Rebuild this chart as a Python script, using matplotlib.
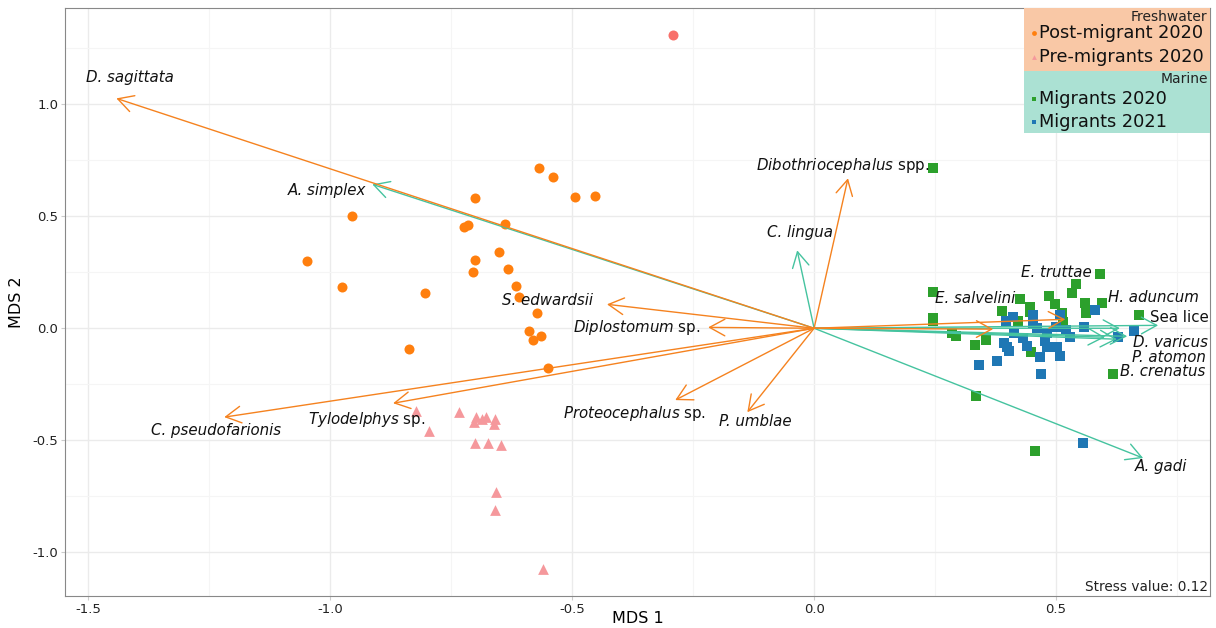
import matplotlib
matplotlib.use("Agg")
import matplotlib.pyplot as plt
from matplotlib.patches import Rectangle
from matplotlib.ticker import MultipleLocator, FormatStrFormatter

plt.rcParams['font.family'] = ['DejaVu Sans']
plt.rcParams['axes.unicode_minus'] = False

# Puntos de las muestras (MDS 1, MDS 2)
post_x = [-0.568, -0.539, -0.494, -0.452, -0.700, -0.955, -0.723, -0.715, -0.638, -1.048,
          -0.700, -0.651, -0.705, -0.632, -0.975, -0.804, -0.616, -0.610, -0.572, -0.589,
          -0.581, -0.564, -0.837, -0.550]
post_y = [0.714, 0.674, 0.585, 0.589, 0.580, 0.500, 0.451, 0.460, 0.464, 0.299,
          0.304, 0.339, 0.250, 0.263, 0.183, 0.156, 0.188, 0.138, 0.067, -0.013,
          -0.054, -0.036, -0.094, -0.179]

outlier_x = [-0.291]
outlier_y = [1.308]

pre_x = [-0.822, -0.795, -0.733, -0.698, -0.702, -0.686, -0.678, -0.659, -0.661, -0.700,
         -0.674, -0.647, -0.657, -0.659, -0.560]
pre_y = [-0.371, -0.460, -0.375, -0.397, -0.420, -0.406, -0.397, -0.406, -0.429, -0.513,
         -0.513, -0.522, -0.732, -0.813, -1.076]

mig20_x = [0.246, 0.246, 0.246, 0.285, 0.293, 0.333, 0.355, 0.388, 0.426, 0.421,
           0.446, 0.446, 0.448, 0.486, 0.498, 0.512, 0.514, 0.541, 0.533, 0.591,
           0.560, 0.562, 0.595, 0.671, 0.618, 0.335, 0.246, 0.457]
mig20_y = [0.161, 0.045, 0.031, -0.022, -0.036, -0.076, -0.054, 0.076, 0.129, 0.031,
           0.094, 0.071, -0.107, 0.143, 0.107, 0.067, 0.027, 0.196, 0.156, 0.241,
           0.112, 0.067, 0.112, 0.058, -0.205, -0.304, 0.714, -0.549]

mig21_x = [0.411, 0.397, 0.413, 0.452, 0.452, 0.461, 0.481, 0.500, 0.508, 0.521,
           0.529, 0.558, 0.581, 0.393, 0.399, 0.403, 0.432, 0.440, 0.477, 0.481,
           0.502, 0.508, 0.467, 0.378, 0.341, 0.469, 0.628, 0.661, 0.556]
mig21_y = [0.049, 0.031, -0.022, 0.058, 0.022, 0.000, -0.022, 0.004, 0.058, -0.009,
           -0.040, 0.004, 0.080, -0.067, -0.085, -0.103, -0.045, -0.080, -0.058, -0.085,
           -0.085, -0.125, -0.129, -0.147, -0.165, -0.205, -0.040, -0.013, -0.513]

# Vectores de parásitos de agua dulce
fw_names = ["D. sagittata", r"$\it{Dibothriocephalus}$ spp.", "S. edwardsii",
            r"$\it{Diplostomum}$ sp.", "C. pseudofarionis", r"$\it{Tylodelphys}$ sp.",
            r"$\it{Proteocephalus}$ sp.", "P. umblae", "E. salvelini", "E. truttae"]
fw_x = [-1.442, 0.070, -0.428, -0.219, -1.219, -0.870, -0.287, -0.138, 0.370, 0.519]
fw_y = [1.027, 0.670, 0.107, 0.004, -0.397, -0.335, -0.321, -0.375, -0.004, 0.040]
fw_lab_x = [-1.413, 0.058, -0.550, -0.366, -1.236, -0.924, -0.372, -0.122, 0.333, 0.500]
fw_lab_y = [1.121, 0.728, 0.125, 0.004, -0.455, -0.406, -0.379, -0.415, 0.134, 0.250]

# Vectores de parásitos marinos
mar_names = ["A. simplex", "C. lingua", "H. aduncum", "Sea lice", "D. varicus",
             "P. atomon", "B. crenatus", "A. gadi"]
mar_x = [-0.913, -0.035, 0.632, 0.711, 0.647, 0.626, 0.601, 0.680]
mar_y = [0.643, 0.348, 0.000, 0.013, -0.036, -0.049, -0.040, -0.580]
mar_lab_x = [-0.926, -0.029, 0.702, 0.754, 0.736, 0.733, 0.721, 0.717]
mar_lab_y = [0.616, 0.429, 0.138, 0.049, -0.063, -0.129, -0.192, -0.616]

c_orange = "#ff7f0e"
c_pink = "#f5989c"
c_green = "#2ca02c"
c_blue = "#1f77b4"
c_red = "#f8706a"
c_arrow_fw = "#f5821f"
c_arrow_mar = "#45c39f"

fig = plt.figure(figsize=(12.16, 6.28), dpi=100)
ax = fig.add_axes([0.0535, 0.051, 0.9415, 0.936])

ax.set_xlim(-1.548, 0.818)
ax.set_ylim(-1.196, 1.43)

ax.xaxis.set_major_locator(MultipleLocator(0.5))
ax.xaxis.set_minor_locator(MultipleLocator(0.25))
ax.yaxis.set_major_locator(MultipleLocator(0.5))
ax.yaxis.set_minor_locator(MultipleLocator(0.25))
ax.xaxis.set_major_formatter(FormatStrFormatter('%.1f'))
ax.yaxis.set_major_formatter(FormatStrFormatter('%.1f'))
ax.grid(True, which='major', color='#ebebeb', lw=1.0)
ax.grid(True, which='minor', color='#f5f5f5', lw=0.8)
ax.set_axisbelow(True)
ax.tick_params(which='major', length=3, pad=2, color='#cccccc', labelsize=9.5,
               labelcolor='#222222')
ax.tick_params(which='minor', length=0)
for s in ax.spines.values():
    s.set_color('#888888')
    s.set_linewidth(0.8)

ax.set_xlabel("MDS 1", fontsize=11.5, va='center')
ax.xaxis.set_label_coords(0.5, -0.038)
ax.set_ylabel("MDS 2", fontsize=11.5, labelpad=6)

# Puntos
ax.scatter(post_x, post_y, s=52, color=c_orange, marker='o', linewidths=0, zorder=2)
ax.scatter(outlier_x, outlier_y, s=52, color=c_red, marker='o', linewidths=0, zorder=2)
ax.scatter(pre_x, pre_y, s=60, color=c_pink, marker='^', linewidths=0, zorder=2)
ax.scatter(mig20_x, mig20_y, s=45, color=c_green, marker='s', linewidths=0, zorder=2)
ax.scatter(mig21_x, mig21_y, s=45, color=c_blue, marker='s', linewidths=0, zorder=2)

# Flechas
estilo = '->,head_length=0.55,head_width=0.3'
for x, y in zip(mar_x, mar_y):
    ax.annotate("", xy=(x, y), xytext=(0, 0),
                arrowprops=dict(arrowstyle=estilo, color=c_arrow_mar, lw=1.0,
                                shrinkA=0, shrinkB=0, mutation_scale=20), zorder=3)
for x, y in zip(fw_x, fw_y):
    ax.annotate("", xy=(x, y), xytext=(0, 0),
                arrowprops=dict(arrowstyle=estilo, color=c_arrow_fw, lw=1.0,
                                shrinkA=0, shrinkB=0, mutation_scale=20), zorder=3)

# Etiquetas de las flechas
for name, x, y in zip(fw_names, fw_lab_x, fw_lab_y):
    st = 'normal' if name.startswith('$') else 'italic'
    ax.text(x, y, name, fontsize=10.8, style=st, ha='center', va='center',
            color='#111111', zorder=4)
for name, x, y in zip(mar_names, mar_lab_x, mar_lab_y):
    st = 'normal' if name == "Sea lice" else 'italic'
    ha = 'right' if name == "A. simplex" else 'center'
    ax.text(x, y, name, fontsize=10.8, style=st, ha=ha, va='center',
            color='#111111', zorder=4)

# Leyenda hecha a mano
ax.add_patch(Rectangle((0.838, 0.893), 0.162, 0.107, transform=ax.transAxes,
                       facecolor='#f9c8a6', edgecolor='none', zorder=5))
ax.add_patch(Rectangle((0.838, 0.787), 0.162, 0.106, transform=ax.transAxes,
                       facecolor='#abe1d3', edgecolor='none', zorder=5))
ax.text(0.998, 0.985, "Freshwater", transform=ax.transAxes, ha='right', va='center',
        fontsize=10, color='#222222', zorder=6)
ax.text(0.998, 0.879, "Marine", transform=ax.transAxes, ha='right', va='center',
        fontsize=10, color='#222222', zorder=6)
entradas = [("Post-migrant 2020", c_orange, 'o', 0.957),
            ("Pre-migrants 2020", c_pink, '^', 0.917),
            ("Migrants 2020", c_green, 's', 0.845),
            ("Migrants 2021", c_blue, 's', 0.806)]
for lab, col, mk, yy in entradas:
    ax.scatter([0.846], [yy], s=12, color=col, marker=mk, transform=ax.transAxes,
               zorder=6, linewidths=0, clip_on=False)
    ax.text(0.851, yy, lab, transform=ax.transAxes, ha='left', va='center',
            fontsize=12.8, color='#111111', zorder=6)

ax.text(0.998, 0.016, "Stress value: 0.12", transform=ax.transAxes, ha='right',
        va='center', fontsize=9.8, color='#222222')

fig.savefig("out.png", dpi=100)
